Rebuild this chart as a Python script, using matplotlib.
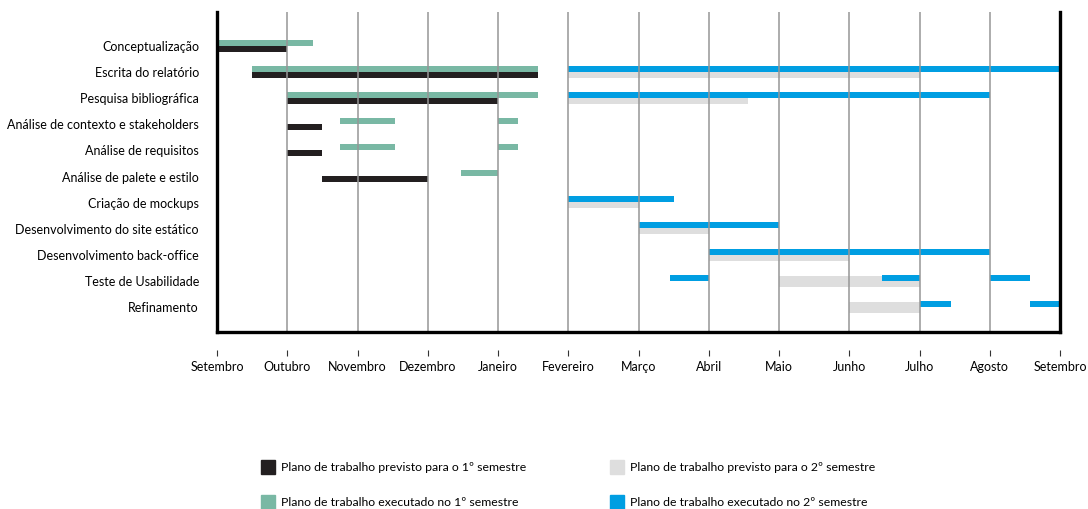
import matplotlib
matplotlib.use("Agg")
import matplotlib.pyplot as plt
from matplotlib.patches import Rectangle

plt.rcParams["font.family"] = ["Lato", "DejaVu Sans"]

# ============================================================
# Data
# ============================================================

tasks = [
    "Conceptualização",
    "Escrita do relatório",
    "Pesquisa bibliográfica",
    "Análise de contexto e stakeholders",
    "Análise de requisitos",
    "Análise de palete e estilo",
    "Criação de mockups",
    "Desenvolvimento do site estático",
    "Desenvolvimento back-office",
    "Teste de Usabilidade",
    "Refinamento",
]

months = ["Setembro", "Outubro", "Novembro", "Dezembro", "Janeiro", "Fevereiro",
          "Março", "Abril", "Maio", "Junho", "Julho", "Agosto", "Setembro"]

# months counted from start of September
plan_s1_rows = [0, 1, 2, 3, 4, 5]
plan_s1_start = [0, 0.5, 1, 1, 1, 1.5]
plan_s1_end = [1, 4.57, 4, 1.5, 1.5, 3]

exec_s1_rows = [0, 1, 2, 3, 3, 4, 4, 5]
exec_s1_start = [0, 0.5, 1, 1.75, 4.0, 1.75, 4.0, 3.48]
exec_s1_end = [1.37, 4.57, 4.57, 2.53, 4.28, 2.53, 4.28, 4.0]

plan_s2_rows = [1, 2, 6, 7, 8, 9, 10]
plan_s2_start = [5, 5, 5, 6, 7, 8, 9]
plan_s2_end = [10, 7.56, 6, 7, 9, 10, 10]

exec_s2_rows = [1, 2, 6, 7, 8, 9, 9, 9, 10, 10]
exec_s2_start = [5, 5, 5, 6, 7, 6.45, 9.47, 11, 10, 11.57]
exec_s2_end = [12, 11, 6.5, 8, 11, 7, 10, 11.57, 10.45, 12]

legend_labels = [
    "Plano de trabalho previsto para o 1º semestre",
    "Plano de trabalho previsto para o 2º semestre",
    "Plano de trabalho executado no 1º semestre",
    "Plano de trabalho executado no 2º semestre",
]

# ============================================================
# Styles
# ============================================================

c_plan1 = "#231f20"
c_exec1 = "#79b8a4"
c_plan2 = "#dedede"
c_exec2 = "#009ee2"

row_px = 26.1
bar_h = 6.0 / row_px
top_off = -2.3 / row_px
bot_off = 3.7 / row_px
tall_rows = [9, 10]        # planned grey bars drawn at double height

# ============================================================
# Plot
# ============================================================

fig = plt.figure(figsize=(10.88, 5.10), dpi=100)
ax = fig.add_axes([217 / 1088, 177 / 510, 843 / 1088, 320 / 510])


def draw(rows, start, end, offset, color, tall=()):
    for r, s, e in zip(rows, start, end):
        if r in tall:
            ax.barh(r + 1.65 / row_px, e - s, left=s, height=11.3 / row_px,
                    color=color, zorder=1)
        else:
            ax.barh(r + offset, e - s, left=s, height=bar_h, color=color, zorder=2)


draw(plan_s1_rows, plan_s1_start, plan_s1_end, bot_off, c_plan1)
draw(exec_s1_rows, exec_s1_start, exec_s1_end, top_off, c_exec1)
draw(plan_s2_rows, plan_s2_start, plan_s2_end, bot_off, c_plan2, tall_rows)
draw(exec_s2_rows, exec_s2_start, exec_s2_end, top_off, c_exec2)

for m in range(1, 12):
    ax.axvline(m, color="#969696", lw=1.1, zorder=3)

ax.set_xlim(0, 12)
ax.set_ylim((333 - 46) / row_px, -(46 - 13) / row_px)

ax.set_xticks(range(len(months)))
ax.set_xticklabels(months)
ax.set_yticks(range(len(tasks)))
ax.set_yticklabels(tasks)

ax.tick_params(axis="x", direction="out", length=4.3, width=0.8,
               color="#333333", pad=3, labelsize=9)
ax.tick_params(axis="y", length=0, pad=13, labelsize=9)

ax.spines["top"].set_visible(False)
for side in ["left", "right"]:
    ax.spines[side].set_linewidth(2.4)
    ax.spines[side].set_color("black")
ax.spines["bottom"].set_position(("outward", 13))
ax.spines["bottom"].set_visible(False)
ax.plot([0, 1], [0, 0], transform=ax.transAxes, color="black", lw=2.4,
        clip_on=False, solid_capstyle="projecting", zorder=5)

# legend (manual, two columns)
leg_colors = [c_plan1, c_plan2, c_exec1, c_exec2]
leg_x = [261, 610, 261, 610]
leg_y = [468, 468, 503, 503]
for lab, col, x, y in zip(legend_labels, leg_colors, leg_x, leg_y):
    fig.add_artist(Rectangle((x / 1088, (510 - y - 7) / 510), 14 / 1088, 14 / 510,
                             transform=fig.transFigure, color=col))
    fig.text((x + 20) / 1088, (510 - y) / 510, lab, va="center", ha="left",
             fontsize=8.8)

plt.savefig("out.png", dpi=100)
